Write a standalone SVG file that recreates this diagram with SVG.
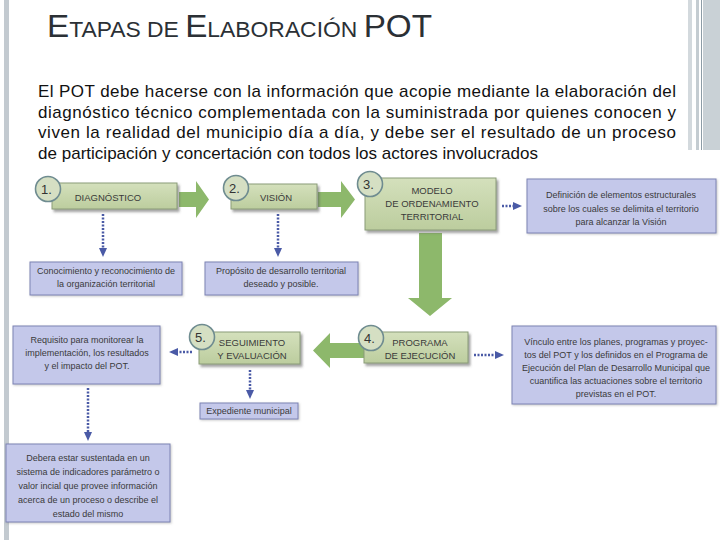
<svg xmlns="http://www.w3.org/2000/svg" width="720" height="540" viewBox="0 0 720 540">
<defs>
<style>
.title{font-family:"Liberation Sans",Arial,sans-serif;fill:#2b3035}
.para{font-family:"Liberation Sans",Arial,sans-serif;font-size:17px;fill:#111}
.gbox{fill:url(#gg);stroke:#8a9b78;stroke-width:1;filter:url(#sh)}
.bbox{fill:#c4c8ea;stroke:#7d83b4;stroke-width:1;filter:url(#sh2)}
.circ{fill:#d5dfc3;stroke:#6f8c90;stroke-width:1.6}
.num{font-family:"Liberation Sans",Arial,sans-serif;font-size:13px;fill:#333}
.gt{font-family:"Liberation Sans",Arial,sans-serif;font-size:9.5px;fill:#3a3a3a;text-anchor:middle}
.bt{font-family:"Liberation Sans",Arial,sans-serif;font-size:9px;fill:#3a3a3a;text-anchor:middle}
.garrow{fill:#8db86b}
.dot{stroke:#4a5aa6;stroke-width:2.5;stroke-dasharray:2 1.5;fill:none;marker-end:url(#ah)}
</style>
<linearGradient id="gg" x1="0" y1="0" x2="0" y2="1">
<stop offset="0" stop-color="#d4e0bc"/>
<stop offset="1" stop-color="#bccd9e"/>
</linearGradient>
<filter id="sh" x="-10%" y="-20%" width="130%" height="150%">
<feDropShadow dx="2" dy="2.5" stdDeviation="1" flood-color="#555" flood-opacity="0.55"/>
</filter>
<filter id="sh2" x="-10%" y="-20%" width="130%" height="150%">
<feDropShadow dx="1" dy="1" stdDeviation="0.8" flood-color="#777" flood-opacity="0.4"/>
</filter>
<marker id="ah" markerWidth="9" markerHeight="9" refX="2" refY="4.5" orient="auto" markerUnits="userSpaceOnUse">
<path d="M0,0.5 L9,4.5 L0,8.5 Z" fill="#4a5aa6"/>
</marker>
</defs>
<rect width="720" height="540" fill="#ffffff"/>
<!-- slide frame -->
<rect x="4" y="0" width="5" height="540" fill="#c3cad0"/>
<rect x="688" y="0" width="4" height="150" fill="#d3d9dd"/>
<rect x="696" y="0" width="3" height="150" fill="#c4ccd1"/>
<rect x="701" y="0" width="1" height="150" fill="#8d9ca6"/>
<rect x="703" y="0" width="17" height="150" fill="#c9d1d6"/>
<!-- title -->
<text class="title" x="47" y="37" textLength="385" lengthAdjust="spacingAndGlyphs"><tspan font-size="32">E</tspan><tspan font-size="22">TAPAS DE </tspan><tspan font-size="32">E</tspan><tspan font-size="22">LABORACIÓN </tspan><tspan font-size="32">POT</tspan></text>
<!-- paragraph -->
<text class="para" x="38" y="97" textLength="638" lengthAdjust="spacing">El POT debe hacerse con la información que acopie mediante la elaboración del</text>
<text class="para" x="38" y="117.5" textLength="638" lengthAdjust="spacing">diagnóstico técnico complementada con la suministrada por quienes conocen y</text>
<text class="para" x="38" y="138" textLength="638" lengthAdjust="spacing">viven la realidad del municipio día a día, y debe ser el resultado de un proceso</text>
<text class="para" x="38" y="158.5" textLength="500" lengthAdjust="spacing">de participación y concertación con todos los actores involucrados</text>

<!-- connectors -->
<g id="connectors">
<polygon class="garrow" points="179,192 196,192 196,181 209,199.5 196,218 196,207 179,207"/>
<polygon class="garrow" points="318,192 341,192 341,181 355,199.5 341,218 341,207 318,207"/>
<polygon class="garrow" points="419,233 442,233 442,298 452,298 430,316 408,298 419,298"/>
<polygon class="garrow" points="365,343 330,343 330,333 313,350.5 330,368 330,358 365,358"/>
<line class="dot" x1="103" y1="214" x2="103" y2="250"/>
<line class="dot" x1="278" y1="214" x2="278" y2="250"/>
<line class="dot" x1="502" y1="206" x2="515" y2="206"/>
<line class="dot" x1="474" y1="355" x2="497" y2="355"/>
<line class="dot" x1="192" y1="352" x2="176" y2="352"/>
<line class="dot" x1="250" y1="370" x2="250" y2="392"/>
<line class="dot" x1="88" y1="388" x2="88" y2="434"/>
</g>

<!-- nodes -->
<g id="n1">
<rect class="gbox" x="52" y="183" width="125" height="26"/>
<circle class="circ" cx="48" cy="189" r="12.5"/>
<text class="num" x="41" y="194">1.</text>
<text class="gt" x="108" y="201">DIAGNÓSTICO</text>
</g>
<g id="n2">
<rect class="gbox" x="231" y="184" width="86" height="25"/>
<circle class="circ" cx="236" cy="188" r="12.5"/>
<text class="num" x="229" y="193">2.</text>
<text class="gt" x="276" y="201">VISIÓN</text>
</g>
<g id="n3">
<rect class="gbox" x="365" y="178" width="131" height="52"/>
<circle class="circ" cx="370" cy="184" r="12.5"/>
<text class="num" x="363" y="189">3.</text>
<text class="gt" x="432" y="194">MODELO</text>
<text class="gt" x="432" y="207">DE ORDENAMIENTO</text>
<text class="gt" x="432" y="220">TERRITORIAL</text>
</g>
<g id="n3b">
<rect class="bbox" x="527" y="179" width="189" height="54"/>
<text class="bt" x="621" y="198">Definición de elementos estructurales</text>
<text class="bt" x="621" y="212">sobre los cuales se delimita el territorio</text>
<text class="bt" x="621" y="225">para alcanzar la Visión</text>
</g>
<g id="n1b">
<rect class="bbox" x="30" y="262" width="152" height="33"/>
<text class="bt" x="106" y="274">Conocimiento y reconocimiento de</text>
<text class="bt" x="106" y="287">la organización territorial</text>
</g>
<g id="n2b">
<rect class="bbox" x="205" y="262" width="153" height="33"/>
<text class="bt" x="281" y="274">Propósito de desarrollo territorial</text>
<text class="bt" x="281" y="287">deseado y posible.</text>
</g>
<g id="n4">
<rect class="gbox" x="364" y="332" width="104" height="31"/>
<circle class="circ" cx="371" cy="338" r="12.5"/>
<text class="num" x="364" y="343">4.</text>
<text class="gt" x="420" y="346">PROGRAMA</text>
<text class="gt" x="420" y="359">DE EJECUCIÓN</text>
</g>
<g id="n4b">
<rect class="bbox" x="512" y="326" width="204" height="78"/>
<text class="bt" x="616" y="345">Vínculo entre los planes, programas y proyec-</text>
<text class="bt" x="616" y="358">tos  del POT y los definidos en el Programa de</text>
<text class="bt" x="616" y="371">Ejecución del Plan de Desarrollo Municipal que</text>
<text class="bt" x="616" y="384">cuantifica las actuaciones sobre el  territorio</text>
<text class="bt" x="616" y="397">previstas en el POT.</text>
</g>
<g id="n5">
<rect class="gbox" x="199" y="332" width="101" height="32"/>
<circle class="circ" cx="202" cy="337" r="12.5"/>
<text class="num" x="195" y="342">5.</text>
<text class="gt" x="252" y="346">SEGUIMIENTO</text>
<text class="gt" x="252" y="359">Y EVALUACIÓN</text>
</g>
<g id="n5a">
<rect class="bbox" x="13" y="326" width="147" height="58"/>
<text class="bt" x="87" y="343">Requisito para monitorear la</text>
<text class="bt" x="87" y="356">implementación, los resultados</text>
<text class="bt" x="87" y="369">y el impacto del POT.</text>
</g>
<g id="n5b">
<rect class="bbox" x="200" y="403" width="98" height="16"/>
<text class="bt" x="249" y="414">Expediente municipal</text>
</g>
<g id="n5c">
<rect class="bbox" x="6" y="444" width="164" height="78"/>
<text class="bt" x="88" y="461">Debera estar sustentada en un</text>
<text class="bt" x="88" y="475">sistema de indicadores parámetro o</text>
<text class="bt" x="88" y="489">valor incial que provee información</text>
<text class="bt" x="88" y="503">acerca de un proceso o describe el</text>
<text class="bt" x="88" y="517">estado del mismo</text>
</g>
</svg>
